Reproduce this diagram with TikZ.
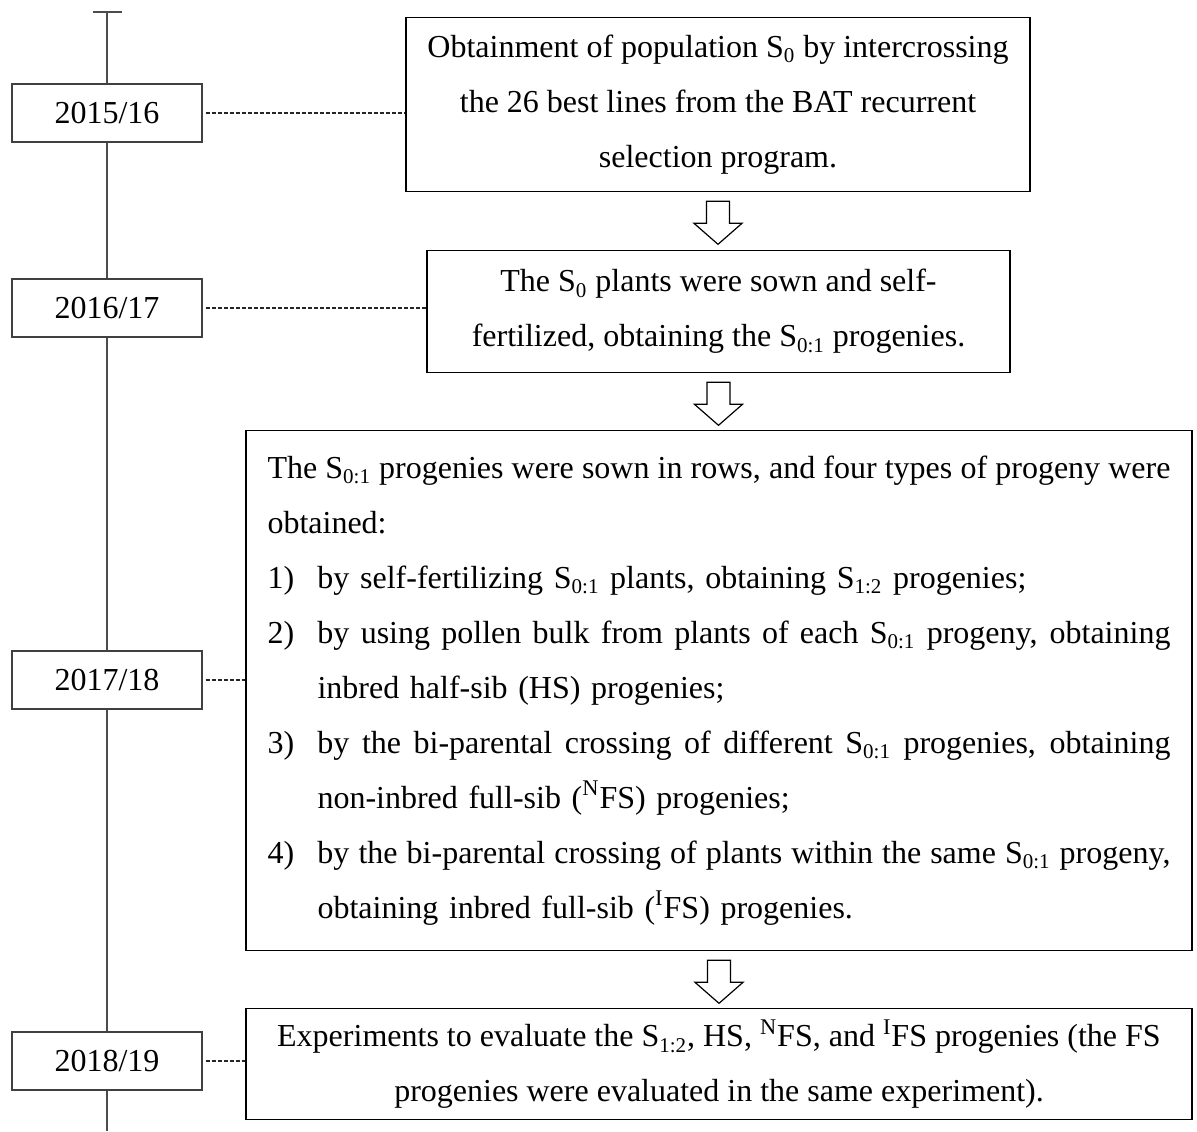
\documentclass[tikz,border=0pt]{standalone}
\usepackage{fontspec}
\setmainfont{Liberation Serif}
\usetikzlibrary{calc}
\newlength\jw
\setlength\jw{451.5pt}
\newcommand\blkarrow[1]{\draw[blk] (#1) ++(-11.5,0) -- ++(0,22) -- ++(-12.5,0) -- ++(24,21) -- ++(24,-21) -- ++(-12.5,0) -- ++(0,-22) -- cycle;}
\newcommand\itm[1]{\makebox[25pt][l]{#1}}
\newcommand\sbs[1]{\textsubscript{\fontsize{10.5}{12}\selectfont #1}}
\newcommand\jline[1]{\makebox[\jw][s]{\spaceskip=0.25em plus 0.3em minus 0.17em #1}}
\begin{document}
\begin{tikzpicture}[x=0.5pt,y=-0.5pt,
  yearbox/.style={draw=black!75, line width=0.65pt, fill=white, minimum width=95pt, minimum height=29pt, inner sep=0pt, font=\fontsize{16}{19}\selectfont},
  bigbox/.style={draw=black, line width=0.65pt, inner sep=0pt, align=center, font=\fontsize{16}{27.5}\selectfont, anchor=north},
  timeline/.style={draw=black!70, line width=1pt},
  link/.style={draw=black!85, line width=0.55pt, dash pattern=on 2pt off 1pt},
  blk/.style={draw=black, line width=0.6pt, fill=white, line join=miter}
]
\useasboundingbox (0,0) rectangle (1197,1131);
% timeline
\coordinate (tltop) at (107,12);
\coordinate (tlbot) at (107,1131);
\draw[timeline] (tltop) -- (tlbot);
\draw[timeline] ($(tltop)+(-14.5,0)$) -- ($(tltop)+(14.5,0)$);
% boxes
\node[bigbox, minimum width=312pt, minimum height=87pt] (b1) at (718,17)
  {Obtainment of population S\sbs{0} by intercrossing\\the 26 best lines from the BAT recurrent\\selection program.};
\node[bigbox, minimum width=291.5pt, minimum height=61pt] (b2) at (718.5,250)
  {The S\sbs{0} plants were sown and self-\\fertilized, obtaining the S\sbs{0:1} progenies.};
\node[bigbox, text width=\jw, inner xsep=10.75pt, minimum height=260pt, align=left] (b3) at (719,430)
  {\jline{The S\sbs{0:1} progenies were sown in rows, and four types of progeny were}\\
   obtained:\\
   \itm{1)}by self-fertilizing S\sbs{0:1} plants, obtaining S\sbs{1:2} progenies;\\
   \jline{\itm{2)}by using pollen bulk from plants of each S\sbs{0:1} progeny, obtaining}\\
   \hspace*{25pt}inbred half-sib (HS) progenies;\\
   \jline{\itm{3)}by the bi-parental crossing of different S\sbs{0:1} progenies, obtaining}\\
   \hspace*{25pt}non-inbred full-sib (\textsuperscript{N}FS) progenies;\\
   \jline{\itm{4)}by the bi-parental crossing of plants within the same S\sbs{0:1} progeny,}\\
   \hspace*{25pt}obtaining inbred full-sib (\textsuperscript{I}FS) progenies.};
\node[bigbox, minimum width=473pt, minimum height=55.5pt] (b4) at (719,1008)
  {Experiments to evaluate the S\sbs{1:2}, HS, \textsuperscript{N}FS, and \textsuperscript{I}FS progenies (the FS\\progenies were evaluated in the same experiment).};
% block arrows
\coordinate (a1) at ($(b1.south)+(0,9)$);
\coordinate (a2) at ($(b2.south)+(0,9)$);
\coordinate (a3) at ($(b3.south)+(0,9)$);
\blkarrow{a1}
\blkarrow{a2}
\blkarrow{a3}
% year boxes
\node[yearbox] (y1) at (107,113) {2015/16};
\node[yearbox] (y2) at (107,308) {2016/17};
\node[yearbox] (y3) at (107,680) {2017/18};
\node[yearbox] (y4) at (107,1061) {2018/19};
% dashed links
\draw[link] ($(y1.east)+(3,0)$) -- (y1.east -| b1.west);
\draw[link] ($(y2.east)+(3,0)$) -- (y2.east -| b2.west);
\draw[link] ($(y3.east)+(3,0)$) -- (y3.east -| b3.west);
\draw[link] ($(y4.east)+(3,0)$) -- (y4.east -| b4.west);
\end{tikzpicture}
\end{document}
